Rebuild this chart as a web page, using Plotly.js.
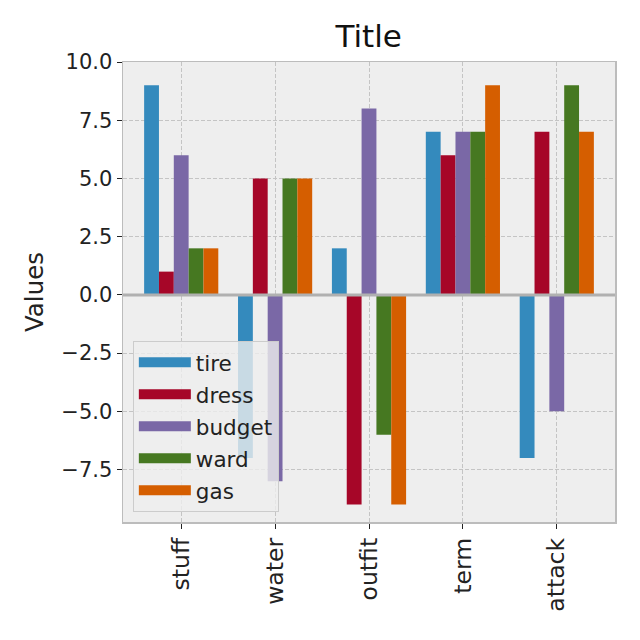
<!DOCTYPE html>
<html><head><meta charset="utf-8">
<script src="https://cdn.plot.ly/plotly-3.0.1.min.js"></script>
<style>html,body{margin:0;padding:0;background:#fff}#chart{width:640px;height:640px}</style>
</head><body><div id="chart"></div>
<script>
const categories = ["stuff", "water", "outfit", "term", "attack"];
const seriesNames = ["tire", "dress", "budget", "ward", "gas"];
const tire   = [9, -7, 2, 7, -7];
const dress  = [1, 5, -9, 6, 7];
const budget = [6, -8, 8, 7, -5];
const ward   = [2, 5, -6, 7, 9];
const gas    = [2, 5, -9, 9, 7];
const seriesValues = [tire, dress, budget, ward, gas];
const colors = ["#348ABD", "#A60628", "#7A68A6", "#467821", "#D55E00"];
const yTickVals = [-7.5, -5, -2.5, 0, 2.5, 5, 7.5, 10];
const yTickText = ["\u22127.5", "\u22125.0", "\u22122.5", "0.0", "2.5", "5.0", "7.5", "10.0"];

const traces = seriesNames.map((n, i) => ({
  type: "bar", name: n, x: categories, y: seriesValues[i],
  marker: {color: colors[i], line: {width: 0}}, showlegend: false
}));
// legend-only entries drawn as wide patches
seriesNames.forEach((n, i) => traces.push({
  type: "scatter", mode: "lines", name: n, x: [null], y: [null],
  line: {color: colors[i], width: 15}, legendgroup: n, showlegend: true, hoverinfo: "skip"
}));

const font = "DejaVu Sans, sans-serif";
const layout = {
  width: 640, height: 640,
  margin: {l: 123, r: 25, t: 62, b: 118},
  paper_bgcolor: "#ffffff", plot_bgcolor: "#eeeeee",
  barmode: "group", bargap: 0.21, bargroupgap: 0,
  title: {text: "Title", font: {family: font, size: 31, color: "#111"}, x: 0.576, xanchor: "center", xref: "container", yref: "container", y: 0.943, yanchor: "middle"},
  font: {family: font, color: "#222"},
  xaxis: {
    type: "category", range: [-0.62, 4.62], layer: "above traces",
    tickangle: -90, tickfont: {family: font, size: 23.5, color: "#222"},
    ticks: "outside", ticklen: 5, tickcolor: "#222",
    showgrid: true, gridcolor: "#c4c4c4", griddash: "4px,2px", gridwidth: 1,
    showline: true, linecolor: "#bcbcbc", linewidth: 1.5, mirror: true, zeroline: false
  },
  yaxis: {
    range: [-9.75, 10], tickvals: yTickVals, ticktext: yTickText, layer: "above traces",
    tickfont: {family: font, size: 21, color: "#222"},
    ticks: "outside", ticklen: 5, tickcolor: "#222",
    showgrid: true, gridcolor: "#c4c4c4", griddash: "4px,2px", gridwidth: 1,
    showline: true, linecolor: "#bcbcbc", linewidth: 1.5, mirror: true, zeroline: false,
    title: {text: "Values", font: {family: font, size: 24.5, color: "#222"}, standoff: 10}
  },
  shapes: [{type: "line", xref: "paper", x0: 0, x1: 1, yref: "y", y0: 0, y1: 0,
            line: {color: "#b0b0b0", width: 3}, layer: "above"}],
  legend: {
    x: 0.02, y: 0.022, xanchor: "left", yanchor: "bottom",
    bgcolor: "rgba(238,238,238,0.8)", bordercolor: "#cccccc", borderwidth: 1,
    font: {family: font, size: 21.5, color: "#222"}, tracegroupgap: 1, itemwidth: 52
  },
  showlegend: true
};
Plotly.newPlot("chart", traces, layout, {displayModeBar: false, staticPlot: true});
</script></body></html>
